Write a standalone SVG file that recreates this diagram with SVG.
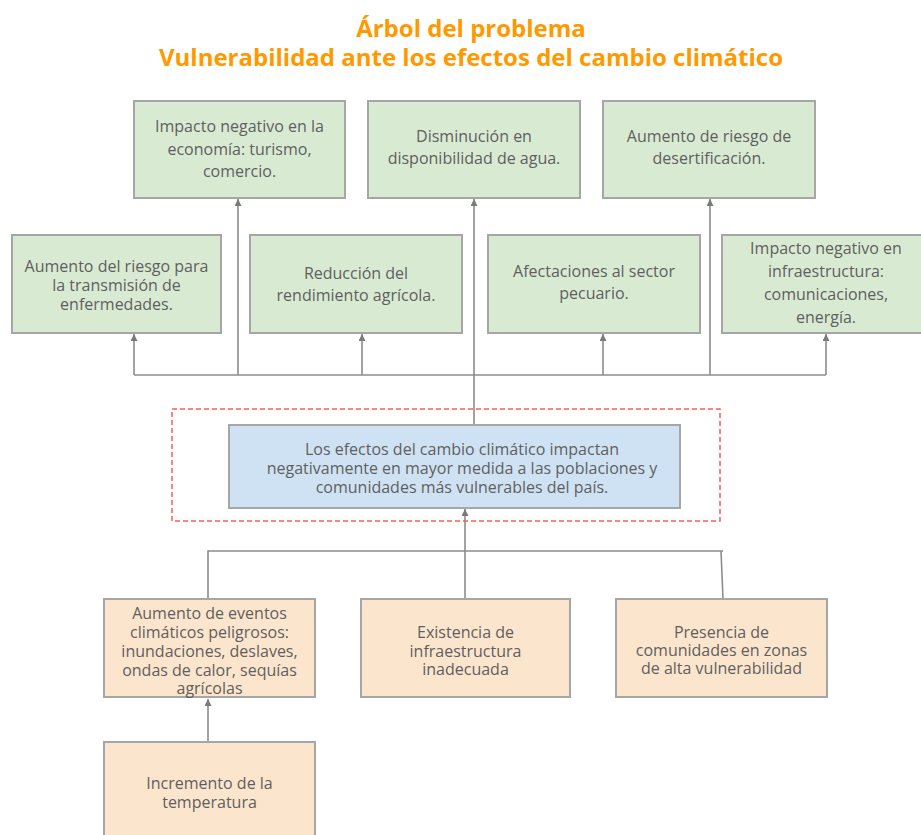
<svg xmlns="http://www.w3.org/2000/svg" width="921" height="835" viewBox="0 0 921 835">
<style>
.title{font-family:"Open Sans","Noto Sans",sans-serif;font-weight:bold;font-size:24px;fill:#ff9900;text-anchor:middle}
.t{font-family:"Open Sans","Noto Sans",sans-serif;font-size:16px;fill:#5f5f5f;text-anchor:middle;dominant-baseline:central}
.g{fill:#d9ead3;stroke:#a6a6a6;stroke-width:2}
.b{fill:#cfe2f3;stroke:#a6a6a6;stroke-width:2}
.o{fill:#fce5cd;stroke:#a6a6a6;stroke-width:2}
.c{fill:none;stroke:#8c8c8c;stroke-width:1.6}
</style>
<defs>
<marker id="ah" viewBox="0 0 10 10" refX="10" refY="5" markerWidth="7" markerHeight="7" markerUnits="userSpaceOnUse" orient="auto">
<path d="M0,0 L10,5 L0,10 z" fill="#7a7a7a"/>
</marker>
</defs>
<rect width="921" height="835" fill="#ffffff"/>
<text class="title" x="471" y="37">Árbol del problema</text>
<text class="title" x="471" y="66">Vulnerabilidad ante los efectos del cambio climático</text>

<g id="connectors">
<polyline class="c" points="134,375 826,375"/>
<line class="c" x1="134" y1="375" x2="134" y2="334" marker-end="url(#ah)"/>
<line class="c" x1="238" y1="375" x2="238" y2="199" marker-end="url(#ah)"/>
<line class="c" x1="362" y1="375" x2="362" y2="334" marker-end="url(#ah)"/>
<line class="c" x1="474" y1="425" x2="474" y2="199" marker-end="url(#ah)"/>
<line class="c" x1="603" y1="375" x2="603" y2="334" marker-end="url(#ah)"/>
<line class="c" x1="710" y1="375" x2="710" y2="199" marker-end="url(#ah)"/>
<line class="c" x1="826" y1="375" x2="826" y2="334" marker-end="url(#ah)"/>
<line class="c" x1="465" y1="599" x2="465" y2="509" marker-end="url(#ah)"/>
<polyline class="c" points="208,599 208,551 723,551"/>
<line class="c" x1="721" y1="551" x2="723" y2="599"/>
<line class="c" x1="208" y1="741" x2="208" y2="699" marker-end="url(#ah)"/>
</g>

<g id="dashed-frame">
<rect x="172" y="409" width="548" height="112" fill="none" stroke="#ff5a5a" stroke-width="1.5" stroke-dasharray="5,3"/>
</g>

<g id="efecto-economia">
<rect class="g" x="134" y="101" width="211" height="97"/>
<text class="t" x="239.5" y="126">Impacto negativo en la</text>
<text class="t" x="239.5" y="149">economía: turismo,</text>
<text class="t" x="239.5" y="171">comercio.</text>
</g>
<g id="efecto-agua">
<rect class="g" x="368" y="101" width="212" height="97"/>
<text class="t" x="474" y="136">Disminución en</text>
<text class="t" x="474" y="158">disponibilidad de agua.</text>
</g>
<g id="efecto-desertificacion">
<rect class="g" x="603" y="101" width="212" height="97"/>
<text class="t" x="709" y="136">Aumento de riesgo de</text>
<text class="t" x="709" y="158">desertificación.</text>
</g>

<g id="efecto-enfermedades">
<rect class="g" x="12" y="235" width="209" height="98"/>
<text class="t" x="116.5" y="266">Aumento del riesgo para</text>
<text class="t" x="116.5" y="285">la transmisión de</text>
<text class="t" x="116.5" y="304">enfermedades.</text>
</g>
<g id="efecto-agricola">
<rect class="g" x="250" y="235" width="212" height="98"/>
<text class="t" x="356" y="273">Reducción del</text>
<text class="t" x="356" y="295">rendimiento agrícola.</text>
</g>
<g id="efecto-pecuario">
<rect class="g" x="488" y="235" width="212" height="98"/>
<text class="t" x="594" y="271">Afectaciones al sector</text>
<text class="t" x="594" y="293">pecuario.</text>
</g>
<g id="efecto-infraestructura">
<rect class="g" x="722" y="235" width="211" height="98"/>
<text class="t" x="826" y="248">Impacto negativo en</text>
<text class="t" x="826" y="271">infraestructura:</text>
<text class="t" x="826" y="294">comunicaciones,</text>
<text class="t" x="826" y="317">energía.</text>
</g>

<g id="problema-central">
<rect class="b" x="229" y="425" width="451" height="83"/>
<text class="t" x="462" y="449">Los efectos del cambio climático impactan</text>
<text class="t" x="462" y="468">negativamente en mayor medida a las poblaciones y</text>
<text class="t" x="462" y="487">comunidades más vulnerables del país.</text>
</g>

<g id="causa-eventos">
<rect class="o" x="104" y="599" width="211" height="98"/>
<text class="t" x="209.5" y="613">Aumento de eventos</text>
<text class="t" x="209.5" y="632">climáticos peligrosos:</text>
<text class="t" x="209.5" y="651">inundaciones, deslaves,</text>
<text class="t" x="209.5" y="670">ondas de calor, sequías</text>
<text class="t" x="209.5" y="688">agrícolas</text>
</g>
<g id="causa-infraestructura">
<rect class="o" x="361" y="599" width="209" height="98"/>
<text class="t" x="465.5" y="632">Existencia de</text>
<text class="t" x="465.5" y="651">infraestructura</text>
<text class="t" x="465.5" y="669">inadecuada</text>
</g>
<g id="causa-comunidades">
<rect class="o" x="616" y="599" width="211" height="98"/>
<text class="t" x="721.5" y="632">Presencia de</text>
<text class="t" x="721.5" y="650">comunidades en zonas</text>
<text class="t" x="721.5" y="668">de alta vulnerabilidad</text>
</g>
<g id="causa-temperatura">
<rect class="o" x="104" y="742" width="211" height="98"/>
<text class="t" x="209.5" y="783">Incremento de la</text>
<text class="t" x="209.5" y="802">temperatura</text>
</g>
</svg>
